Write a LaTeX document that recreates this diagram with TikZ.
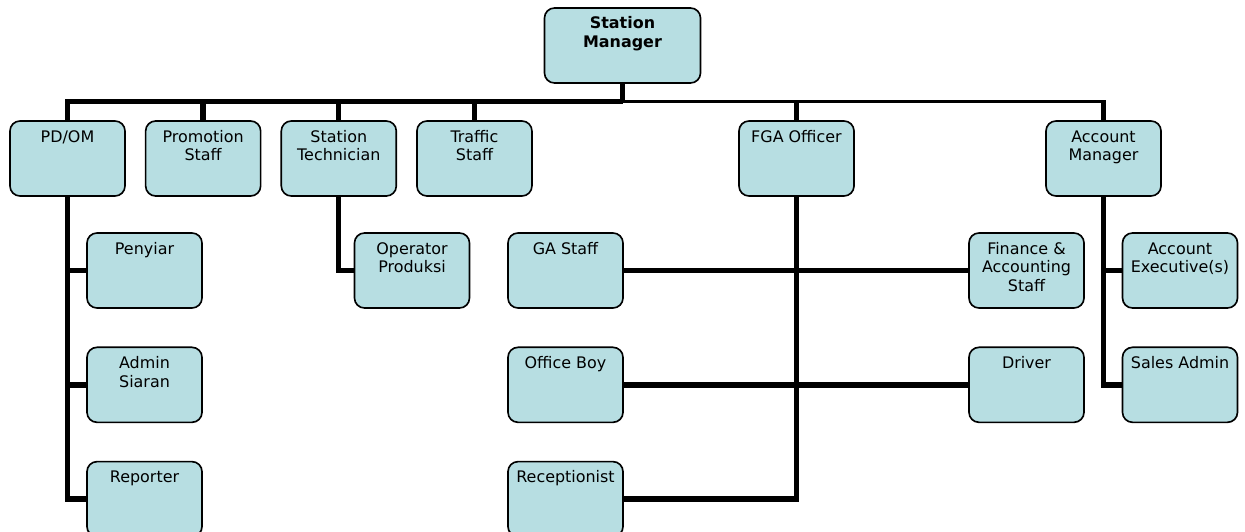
\documentclass[tikz,border=0pt]{standalone}
\usepackage{fontspec}
\setmainfont{DejaVu Sans}
\usetikzlibrary{positioning}
\definecolor{unitfill}{RGB}{183,222,226}
\newcommand{\unittext}[2][3.45cm]{\parbox[c][2.25cm][t]{#1}{\centering\rule{0pt}{0.63cm}#2}}

\begin{document}
\begin{tikzpicture}[x=0.03cm, y=-0.03cm,
    unit/.style={draw=black, line width=1.4pt, fill=unitfill, rounded corners=0.3cm, inner sep=0pt, font=\fontsize{13.6}{16.2}\selectfont},
    head/.style={unit, font=\fontsize{13.6}{16.2}\selectfont\bfseries},
    link/.style={line width=4.6pt},
    thinlink/.style={line width=3.4pt} ]
    \useasboundingbox (0,0) rectangle (1245,531);

    %Nodes
    \node[head] (manager) at (622.5,45.5) {\unittext[4.68cm]{Station\\Manager}};
    \node[unit] (pdom) at (67.5,158.5) {\unittext{PD/OM}};
    \node[unit] (promotion) [right=0.57cm of pdom] {\unittext{Promotion\\Staff}};
    \node[unit] (tech) [right=0.57cm of promotion] {\unittext{Station\\Technician}};
    \node[unit] (traffic) [right=0.57cm of tech] {\unittext{Traffic\\Staff}};
    \node[unit] (fga) at (796.5,158.5) {\unittext{FGA Officer}};
    \node[unit] (acctmgr) at (1103.5,158.5) {\unittext{Account\\Manager}};
    \node[unit] (penyiar) at (144.5,270.5) {\unittext{Penyiar}};
    \node[unit] (admin) [below=1.13cm of penyiar] {\unittext{Admin\\Siaran}};
    \node[unit] (reporter) [below=1.13cm of admin] {\unittext{Reporter}};
    \node[unit] (operator) at (412,270.5) {\unittext{Operator\\Produksi}};
    \node[unit] (gastaff) at (565.5,270.5) {\unittext{GA Staff}};
    \node[unit] (officeboy) [below=1.13cm of gastaff] {\unittext{Office Boy}};
    \node[unit] (receptionist) [below=1.13cm of officeboy] {\unittext{Receptionist}};
    \node[unit] (finance) at (1026.5,270.5) {\unittext{Finance \&\\Accounting\\Staff}};
    \node[unit] (driver) [below=1.13cm of finance] {\unittext{Driver}};
    \node[unit] (acctexec) at (1180,270.5) {\unittext{Account\\Executive(s)}};
    \node[unit] (salesadmin) [below=1.13cm of acctexec] {\unittext{Sales Admin}};
    \coordinate (bus) at (0,101.5);

    %Lines
    \draw[link] (manager.south) -- (manager.south |- bus);
    \draw[link] (pdom.north) -- (pdom.north |- bus) -- (manager.south |- bus);
    \draw[thinlink] (manager.south |- bus) -- (acctmgr.north |- bus);
    \foreach \n in {promotion, tech, traffic, fga, acctmgr}
        \draw[link] (\n.north) -- (\n.north |- bus) -- ++(0,-2);
    \draw[link] (pdom.south) |- (reporter.west);
    \draw[link] (pdom.south |- penyiar.west) -- (penyiar.west);
    \draw[link] (pdom.south |- admin.west) -- (admin.west);
    \draw[link] (tech.south) |- (operator.west);
    \draw[link] (fga.south) |- (receptionist.east);
    \draw[link] (gastaff.east) -- (finance.west);
    \draw[link] (officeboy.east) -- (driver.west);
    \draw[link] (acctmgr.south) |- (salesadmin.west);
    \draw[link] (acctmgr.south |- acctexec.west) -- (acctexec.west);
\end{tikzpicture}
\end{document}
